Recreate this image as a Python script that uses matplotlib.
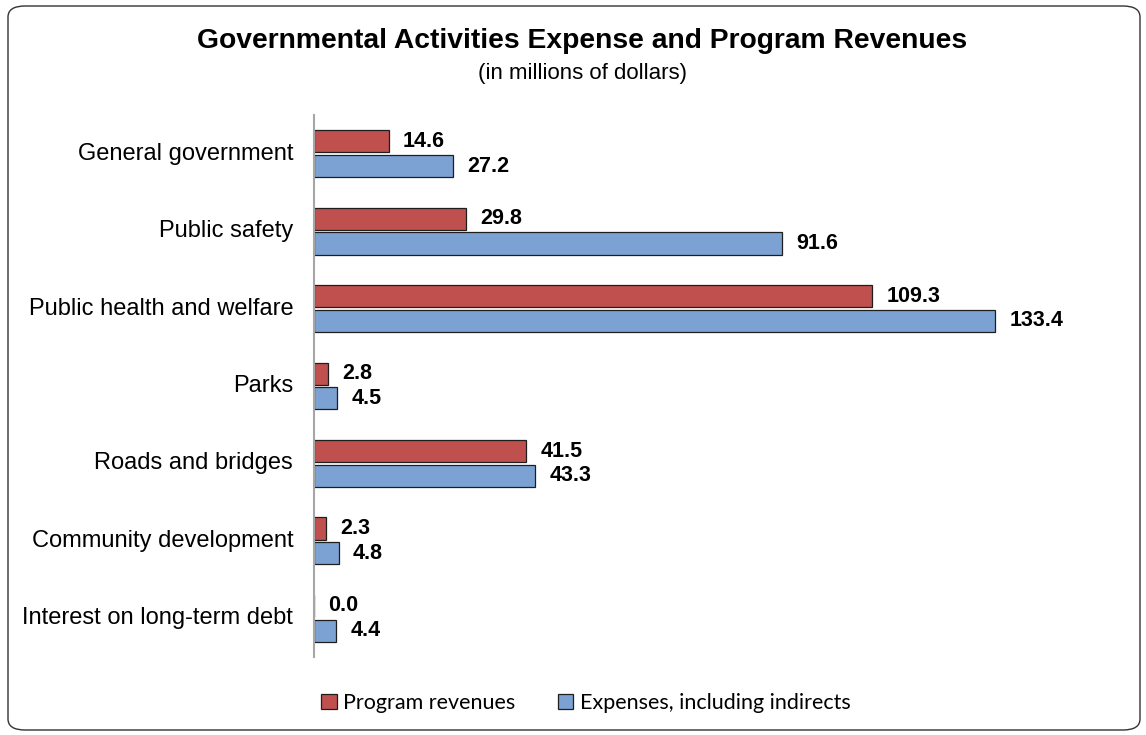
import matplotlib
matplotlib.use("Agg")
import matplotlib.pyplot as plt
from matplotlib.patches import FancyBboxPatch, Patch
import numpy as np

categories = [
    "General government",
    "Public safety",
    "Public health and welfare",
    "Parks",
    "Roads and bridges",
    "Community development",
    "Interest on long-term debt",
]
program_revenues = [14.6, 29.8, 109.3, 2.8, 41.5, 2.3, 0.0]
expenses = [27.2, 91.6, 133.4, 4.5, 43.3, 4.8, 4.4]
series_names = ["Program revenues", "Expenses, including indirects"]

RED = "#C0504D"
BLUE = "#7BA2D2"
EDGE = "#1E1E1E"

W, H = 1146, 735
fig = plt.figure(figsize=(W / 100, H / 100), dpi=100)
fig.patch.set_facecolor("white")

# rounded outer frame
frame = FancyBboxPatch((8 / W, 5 / H), (1132 / W), (724 / H),
                       boxstyle="round,pad=0,rounding_size=0.015",
                       transform=fig.transFigure, facecolor="none",
                       edgecolor="#333333", linewidth=1.0)
fig.patches.append(frame)

ax = fig.add_axes([314 / W, 1 - 657 / H, (1029 - 314) / W, (657 - 115) / H])

y = np.arange(len(categories))
h = 0.285
off = 0.16
ax.barh(y - off, program_revenues, height=h, color=RED, edgecolor=EDGE, linewidth=0.9)
ax.barh(y + off, expenses, height=h, color=BLUE, edgecolor=EDGE, linewidth=0.9)

for yi, v in zip(y, program_revenues):
    ax.text(v + 2.8, yi - off, f"{v:.1f}", va="center", ha="left",
            fontsize=15.5, fontweight="bold", family="Liberation Sans")
for yi, v in zip(y, expenses):
    ax.text(v + 2.8, yi + off, f"{v:.1f}", va="center", ha="left",
            fontsize=15.5, fontweight="bold", family="Liberation Sans")

ax.set_xlim(0, 140)
ax.set_ylim(len(categories) - 0.5, -0.5)
ax.set_yticks(y)
ax.set_yticklabels(categories, fontsize=17, family="Liberation Sans")
for lbl in ax.get_yticklabels():
    lbl.set_verticalalignment("center")
ax.tick_params(axis="y", length=0, pad=15)
ax.set_xticks([])
for s in ["top", "right", "bottom"]:
    ax.spines[s].set_visible(False)
ax.spines["left"].set_color("#A6A6A6")
ax.spines["left"].set_linewidth(1.5)

fig.text(582 / W, 1 - 41 / H, "Governmental Activities Expense and Program Revenues",
         ha="center", va="center", fontsize=20.3, fontweight="bold",
         family="Liberation Sans")
fig.text(582 / W, 1 - 73 / H, "(in millions of dollars)", ha="center", va="center",
         fontsize=16, family="Liberation Sans")

handles = [Patch(facecolor=RED, edgecolor=EDGE, linewidth=0.9),
           Patch(facecolor=BLUE, edgecolor=EDGE, linewidth=0.9)]
fig.legend(handles, series_names, loc="center", bbox_to_anchor=(586 / W, 1 - 703 / H),
           ncol=2, frameon=False, prop={"family": "Lato", "size": 15.5},
           handlelength=0.7, handleheight=0.7, handletextpad=0.3, columnspacing=2.0)

fig.savefig("out.png", dpi=100)
